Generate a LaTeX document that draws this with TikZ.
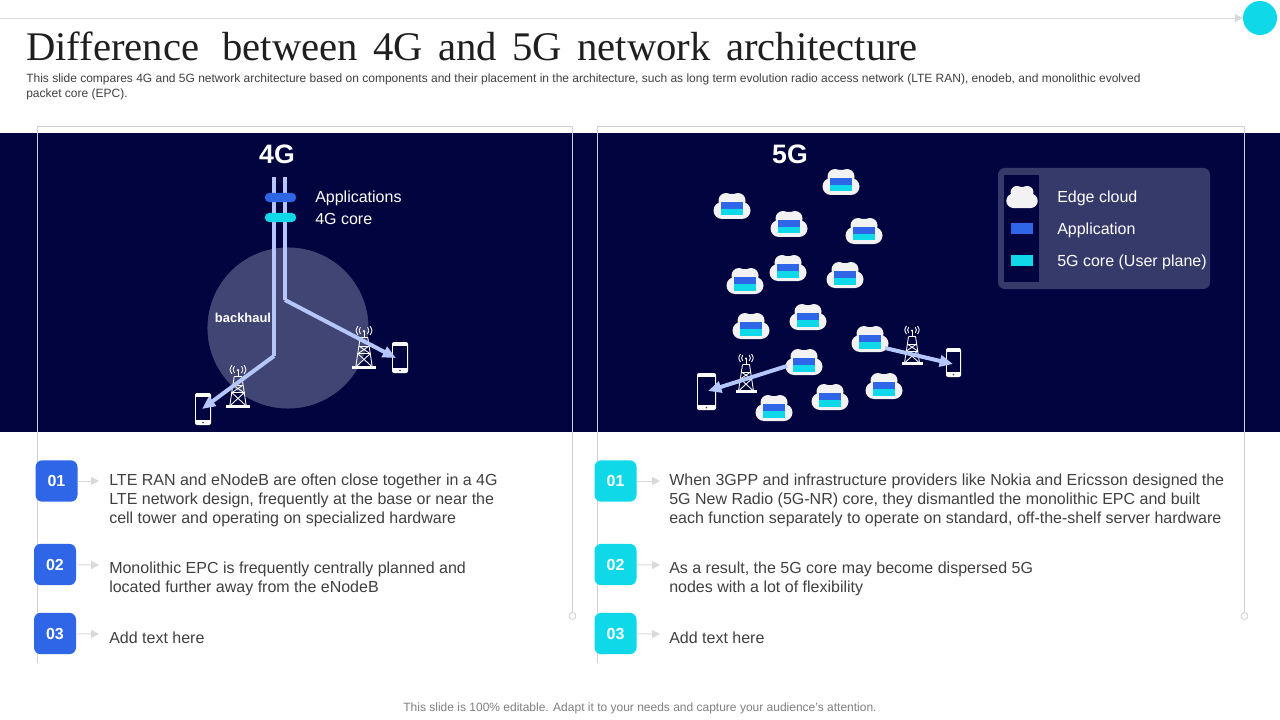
\documentclass[tikz,border=0pt]{standalone}
\usepackage{fontspec}
\setmainfont{Liberation Sans}
\newfontfamily\titlefont[Ligatures=NoCommon]{Liberation Serif}
\usetikzlibrary{arrows.meta}
\definecolor{navy}{HTML}{01043F}
\definecolor{disc}{HTML}{404573}
\definecolor{legendbg}{HTML}{363A6B}
\definecolor{bluec}{HTML}{2F66E8}
\definecolor{cyanc}{HTML}{0FD9E8}
\definecolor{beam}{HTML}{B4C6FA}
\definecolor{cloudc}{HTML}{F2F2F2}
\definecolor{framec}{HTML}{CDD0D8}
\definecolor{txt}{HTML}{404040}
\tikzset{
  x=0.75pt,y=-0.75pt,
  frame/.style={draw=framec,line width=0.6pt},
  beamline/.style={draw=beam,line width=3pt},
  beamarrow/.style={beamline,-{Triangle[length=10pt,width=8.5pt]}},
  smallarrow/.style={draw=black!15,line width=0.7pt,-{Triangle[length=6pt,width=6pt]}},
  badge/.style={rounded corners=5pt,minimum width=31.5pt,minimum height=31pt,inner sep=0pt,text=white,font=\fontsize{12}{14}\selectfont\bfseries},
  body/.style={anchor=west,align=left,inner sep=0pt,text=txt,font=\fontsize{12}{14.25}\selectfont},
  whitetext/.style={anchor=west,inner sep=0pt,text=white,font=\fontsize{12}{14}\selectfont},
  pill/.style={rounded corners=3.4pt,minimum width=23.5pt,minimum height=7pt,inner sep=0pt},
  head/.style={text=white,inner sep=0pt,font=\fontsize{20}{24}\selectfont\bfseries},
  pics/cloudshape/.style={code={
    \fill[cloudc] (-6,-5.5) circle[radius=7.5pt*0.75];
    \fill[cloudc] (6,-5.5) circle[radius=7.5pt*0.75];
    \fill[cloudc] (-10,4.5) circle[radius=8.5pt*0.75];
    \fill[cloudc] (10,4.5) circle[radius=8.5pt*0.75];
    \fill[cloudc] (-13,-2) -- (-6,-12) -- (6,-12) -- (13,-2) -- (10,13) -- (-10,13) -- cycle;
  }},
  pics/edgecloud/.style={code={
    \pic {cloudshape};
    \fill[bluec] (-11,-4) rectangle (11,3);
    \fill[cyanc] (-11,3) rectangle (11,9.5);
  }},
  pics/tower/.style={code={
    \begin{scope}[white,line width=0.65pt]
      \draw (0,-33) -- (0,-28);
      \fill (0,-33.5) circle[radius=1.2];
      \draw (-3.2,-37) .. controls (-4.8,-34) .. (-3.2,-31);
      \draw (3.2,-37) .. controls (4.8,-34) .. (3.2,-31);
      \draw (-5.5,-38) .. controls (-7.8,-34) .. (-5.5,-30);
      \draw (5.5,-38) .. controls (7.8,-34) .. (5.5,-30);
      \draw[line width=1pt] (-3.5,-27.5) -- (3.5,-27.5);
      \draw (-3.5,-27.5) -- (-7.5,-1) (3.5,-27.5) -- (7.5,-1);
      \draw (-4.6,-20) -- (4.6,-20) (-5.6,-13) -- (5.6,-13);
      \draw (-4.6,-20) -- (5.6,-13) -- (-7.5,-1);
      \draw (4.6,-20) -- (-5.6,-13) -- (7.5,-1);
      \fill (-10.5,-2) rectangle (10.5,0.5);
    \end{scope}
  }},
  pics/phone/.style n args={2}{code={
    \fill[white,rounded corners=1.5pt] (-#1,-#2) rectangle (#1,#2);
    \fill[navy] (-#1+1.3,-#2+3.5) rectangle (#1-1.3,#2-5);
    \fill[black!70] (0,#2-2.4) circle[radius=0.9];
  }},
}
\begin{document}
\begin{tikzpicture}
\useasboundingbox (0,0) rectangle (1280,720);
\fill[white] (0,0) rectangle (1280,720);
\fill[navy] (0,133) rectangle (1280,432);

% frames
\coordinate (tl) at (0,18);
\node[circle,fill=cyanc,minimum size=25.5pt,inner sep=0pt] (topdot) at (1260,18) {};
\draw[smallarrow] (tl) -- (topdot);
\draw[frame] (37.5,663) -- (37.5,126.5) -- (572.5,126.5) -- (572.5,612);
\draw[frame] (597.5,663) -- (597.5,126.5) -- (1244.5,126.5) -- (1244.5,612);
\draw[frame,fill=white] (572.5,616) circle[radius=3.5];
\draw[frame,fill=white] (1244.5,616) circle[radius=3.5];

% title
\node[anchor=west,inner sep=0pt,text=black!88,font=\titlefont\fontsize{30.5}{36}\selectfont] (title) at (26,46.5) {Difference\hspace{9.6pt} between\hspace{3.9pt} 4G\hspace{3.9pt} and\hspace{3.9pt} 5G\hspace{3.9pt} network\hspace{3.9pt} architecture};
\node[anchor=north west,align=left,inner sep=0pt,text=txt,font=\fontsize{9}{11.25}\selectfont] (subtitle) at (26,74) {This slide compares 4G and 5G network architecture based on components and their placement in the architecture, such as long term evolution radio access network (LTE RAN), enodeb, and monolithic evolved\\packet core (EPC).};

% 4G panel
\fill[disc] (288,328) circle[radius=60.4pt];
\node[head] (h4) at (277,154.5) {4G};
\draw[beamline] (274,177) -- (274,356) coordinate (kneeA);
\draw[beamline] (285,177) -- (285,300) coordinate (kneeB);
\node[pill,fill=bluec] (p1) at (280.5,197.5) {};
\node[pill,fill=cyanc] (p2) at (280.5,217.5) {};
\node[whitetext] (l1) at (315,198.5) {Applications};
\node[whitetext] (l2) at (315,218.5) {4G core};
\node[anchor=center,inner sep=0pt,text=white,font=\fontsize{9.7}{11}\selectfont\bfseries] (bh) at (243,317.5) {backhaul};
\pic[scale=1.1] at (238,407) {tower};
\pic[scale=1.1] at (364,368) {tower};
\pic at (203,409) {phone={8}{16}};
\pic at (400,357.5) {phone={8}{15.5}};
\coordinate (phA) at (202,409);
\coordinate (phB) at (396,358);
\draw[beamarrow] (kneeA) -- (phA);
\draw[beamarrow] (kneeB) -- (phB);

% 5G panel
\node[head] (h5) at (790,154.5) {5G};
\foreach \x/\y in {841/182,732/206,789/224,864/231,788/268,745/281,845/275,808/317,751/326,870/339,804/362,884/386,830/397,774/408}
  \pic at (\x,\y) {edgecloud};
\pic at (746,392) {tower};
\pic at (912,364) {tower};
\pic at (706.5,391.5) {phone={9.5}{18.5}};
\pic at (953.5,362.5) {phone={7.5}{14.5}};
\coordinate (c1) at (787,366);
\coordinate (c2) at (885,348);
\coordinate (ph3) at (708,391);
\coordinate (ph4) at (953,364);
\draw[beamarrow] (c1) -- (ph3);
\draw[beamarrow] (c2) -- (ph4);

% legend
\fill[legendbg,rounded corners=5pt] (998,168) rectangle (1210,289);
\fill[navy] (1004,175) rectangle (1039,282);
\pic[scale=0.85] at (1022,197) {cloudshape};
\fill[bluec] (1011,223) rectangle (1033,234);
\fill[cyanc] (1011,255) rectangle (1033,266);
\node[whitetext] (e1) at (1057,198.5) {Edge cloud};
\node[whitetext] (e2) at (1057,230.5) {Application};
\node[whitetext] (e3) at (1057,262.5) {5G core (User plane)};

% left list
\node[badge,fill=bluec] (a1) at (56.5,481) {01};
\node[badge,fill=bluec] (a2) at (55,564.5) {02};
\node[badge,fill=bluec] (a3) at (55,633.5) {03};
\node[body] (ta1) at (109,500) {LTE RAN and eNodeB are often close together in a 4G\\LTE network design, frequently at the base or near the\\cell tower and operating on specialized hardware};
\node[body] (ta2) at (109,579) {Monolithic EPC is frequently centrally planned and\\located further away from the eNodeB};
\node[body] (ta3) at (109,637.5) {Add text here};
\coordinate (ea1) at (99,481);
\coordinate (ea2) at (99,565);
\coordinate (ea3) at (99,634);
\draw[smallarrow] (a1) -- (ea1);
\draw[smallarrow] (a2) -- (ea2);
\draw[smallarrow] (a3) -- (ea3);

% right list
\node[badge,fill=cyanc] (b1) at (615.5,481) {01};
\node[badge,fill=cyanc] (b2) at (615.5,564.5) {02};
\node[badge,fill=cyanc] (b3) at (615.5,633.5) {03};
\node[body] (tb1) at (669,500) {When 3GPP and infrastructure providers like Nokia and Ericsson designed the\\5G New Radio (5G-NR) core, they dismantled the monolithic EPC and built\\each function separately to operate on standard, off-the-shelf server hardware};
\node[body] (tb2) at (669,579) {As a result, the 5G core may become dispersed 5G\\nodes with a lot of flexibility};
\node[body] (tb3) at (669,637.5) {Add text here};
\coordinate (eb1) at (660,481);
\coordinate (eb2) at (660,565);
\coordinate (eb3) at (660,634);
\draw[smallarrow] (b1) -- (eb1);
\draw[smallarrow] (b2) -- (eb2);
\draw[smallarrow] (b3) -- (eb3);

% footer
\node[inner sep=0pt,text=black!50,font=\fontsize{9}{11}\selectfont] (foot) at (640,708.5) {This slide is 100\% editable. Adapt it to your needs and capture your audience's attention.};
\end{tikzpicture}
\end{document}
